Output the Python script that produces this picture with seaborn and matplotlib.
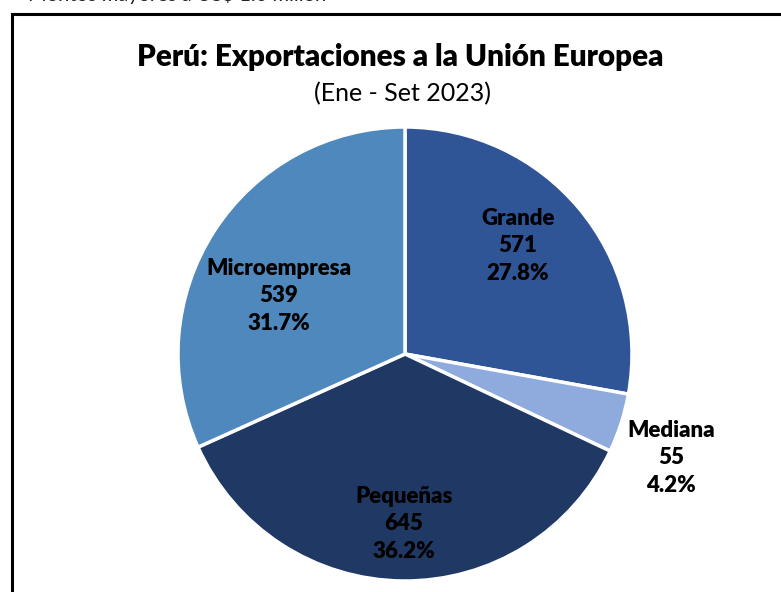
import numpy as np
import pandas as pd
import seaborn as sns
import matplotlib.pyplot as plt
from matplotlib.patches import Rectangle

sns.set_theme(style="white")
plt.rcParams['font.family'] = ['Lato', 'DejaVu Sans']

# Data
segments = ["Grande", "Mediana", "Pequeñas", "Microempresa"]
values = [571, 55, 645, 539]
shares = [27.8, 4.2, 36.2, 31.7]
colors = ["#2F5597", "#8FAADC", "#203864", "#4F88BD"]

W, H = 781, 592
fig = plt.figure(figsize=(W / 100, H / 100), dpi=100)
ax = fig.add_axes([0, 0, 1, 1])

cx, cy, r = 405, H - 354, 227
wedges, _ = ax.pie(shares, colors=colors, startangle=90, counterclock=False,
                   center=(cx, cy), radius=r,
                   wedgeprops=dict(edgecolor="white", linewidth=2.5))
ax.set_xlim(0, W)
ax.set_ylim(0, H)
ax.set_aspect("equal")
ax.axis("off")

# label positions (pixel coords from top)
label_pos = {"Grande": (518, 246), "Mediana": (671, 458),
             "Pequeñas": (404, 524), "Microempresa": (279, 296)}
for seg, v, s in zip(segments, values, shares):
    x, y = label_pos[seg]
    ax.text(x, H - y, f"{seg}\n{v}\n{s:.1f}%", ha="center", va="center",
            fontsize=16, fontweight="heavy", color="black", linespacing=1.38)

ax.text(400, H - 57, "Perú: Exportaciones a la Unión Europea", ha="center",
        va="center", fontsize=21.3, fontweight="heavy", color="black")
ax.text(403, H - 94, "(Ene - Set 2023)", ha="center", va="center",
        fontsize=18, color="black")

# cropped footnote above the frame
ax.text(28, H + 5.5, "Montos mayores a US$ 1.0 millón", ha="left", va="center",
        fontsize=14.5, color="#222222", clip_on=False)

# outer frame, running off the right and bottom edges
ax.add_patch(Rectangle((12, -10), W, H - 14 + 10, fill=False,
                       edgecolor="black", linewidth=2.2, clip_on=False))

fig.savefig("out.png", dpi=100)
